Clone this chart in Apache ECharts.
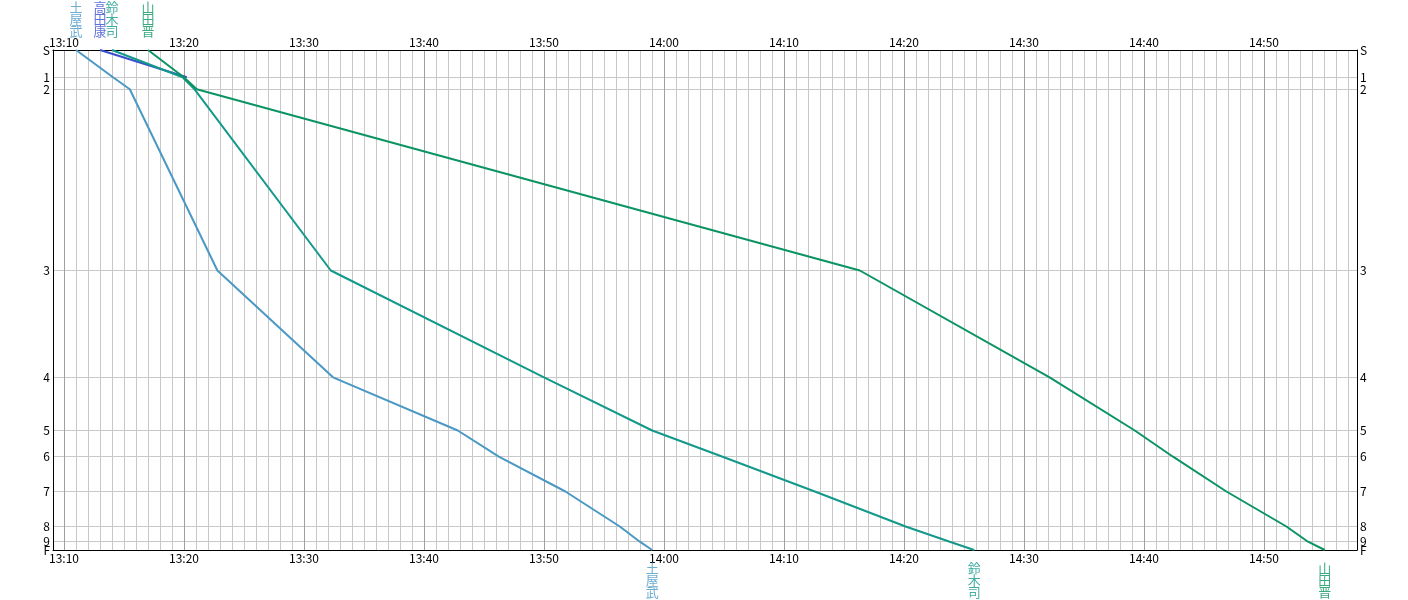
<!DOCTYPE html>
<html>
<head>
<meta charset="utf-8">
<script src="https://cdn.jsdelivr.net/npm/echarts@6/dist/echarts.min.js"></script>
<style>
  html, body { margin: 0; padding: 0; background: #fff; }
  #chart { width: 1408px; height: 600px; }
</style>
</head>
<body>
<div id="chart"></div>
<script>
// ---------- data ----------
const stations = ['S', '1', '2', '3', '4', '5', '6', '7', '8', '9', 'F'];
const distances = [0, 273, 393, 2205, 3273, 3805, 4067, 4415, 4765, 4917, 5000];

const runnerNames = ['土屋武', '高田康', '鈴木司', '山田晋'];
const runnerColors = ['#4a98c4', '#3a4fcc', '#12998a', '#0b9462'];

const tsuchiyaTimes = ['13:11:00', '13:14:05', '13:15:29', '13:22:47', '13:32:25', '13:42:49', '13:46:14', '13:51:47', '13:56:19', '13:57:59', '13:59:01'];
const takadaTimes   = ['13:13:00', '13:20:14'];
const suzukiTimes   = ['13:14:00', '13:19:53', '13:20:53', '13:32:14', '13:50:00', '13:59:01', '14:04:53', '14:12:34', '14:20:08', '14:23:49', '14:25:51'];
const yamadaTimes   = ['13:17:00', '13:19:59', '13:21:04', '14:16:19', '14:32:08', '14:39:14', '14:42:25', '14:46:52', '14:51:52', '14:53:40', '14:55:04'];
const runnerTimes = [tsuchiyaTimes, takadaTimes, suzukiTimes, yamadaTimes];
const finished = [true, false, true, true];

const timeLabels = ['13:10', '13:20', '13:30', '13:40', '13:50', '14:00', '14:10', '14:20', '14:30', '14:40', '14:50'];
const axisStart = '13:09:05';
const axisEnd = '14:57:45';
const gridStart = '13:10';
const gridEnd = '14:57';

// ---------- helpers ----------
function toMin(s) {
  const p = s.split(':').map(Number);
  return p[0] * 60 + p[1] + (p[2] || 0) / 60;
}
function fmt(v) {
  const m = Math.round(v);
  const h = Math.floor(m / 60);
  const mm = m % 60;
  return h + ':' + (mm < 10 ? '0' : '') + mm;
}
const labelVals = timeLabels.map(toMin);
const minuteVals = [];
for (let m = toMin(gridStart); m <= toMin(gridEnd); m++) minuteVals.push(m);
const splitColors = ['#a0a0a0'].concat(new Array(9).fill('#c8c8c8'));

const FONT = '"Noto Sans CJK JP", "Noto Sans", sans-serif';

function xAxisDef(pos, withGrid) {
  return {
    type: 'value',
    position: pos,
    min: toMin(axisStart),
    max: toMin(axisEnd),
    axisLine: { show: true, onZero: false, lineStyle: { color: '#000', width: 1 } },
    axisTick: { show: false, customValues: minuteVals },
    axisLabel: {
      show: true, customValues: labelVals, formatter: fmt, margin: 2,
      color: '#000', fontSize: 12, fontFamily: FONT
    },
    splitLine: { show: withGrid, lineStyle: { color: splitColors, width: 1 } },
    minorTick: { show: false },
    minorSplitLine: { show: false }
  };
}
// labelIdx: which station labels this axis carries (overlapping ones are split over two axes)
function yAxisDef(pos, withGrid, labelIdx, withLine) {
  const vals = labelIdx.map(i => distances[i]);
  return {
    type: 'value',
    position: pos,
    inverse: true,
    min: distances[0],
    max: distances[distances.length - 1],
    axisLine: { show: withLine, onZero: false, lineStyle: { color: '#000', width: 1 } },
    axisTick: { show: false, customValues: withGrid ? distances : vals },
    axisLabel: {
      show: true, customValues: vals, margin: 3,
      showMinLabel: true, showMaxLabel: true, hideOverlap: false,
      formatter: v => { const i = distances.indexOf(v); return i >= 0 ? stations[i] : ''; },
      color: '#000', fontSize: 12, fontFamily: FONT
    },
    splitLine: { show: withGrid, lineStyle: { color: '#c8c8c8', width: 1 } }
  };
}
const mainIdx = [0, 1, 2, 3, 4, 5, 6, 7, 8, 10];
const extraIdx = [9];

const series = [];
runnerNames.forEach((name, r) => {
  const times = runnerTimes[r];
  series.push({
    name: name,
    type: 'line',
    xAxisIndex: 0, yAxisIndex: 0,
    data: times.map((t, i) => [toMin(t), distances[i]]),
    symbol: 'none',
    lineStyle: { color: runnerColors[r], width: 2 },
    itemStyle: { color: runnerColors[r] },
    z: 3,
    animation: false
  });
});

// runner name labels (start at top, finish at bottom)
const nameData = [];
runnerNames.forEach((name, r) => {
  const times = runnerTimes[r];
  nameData.push({
    value: [toMin(times[0]), distances[0]],
    name: name,
    label: { position: 'top', color: runnerColors[r] }
  });
  if (finished[r]) {
    nameData.push({
      value: [toMin(times[times.length - 1]), distances[distances.length - 1]],
      name: name,
      label: { position: 'bottom', color: runnerColors[r] }
    });
  }
});
series.push({
  type: 'scatter',
  xAxisIndex: 0, yAxisIndex: 0,
  data: nameData,
  symbolSize: 1,
  itemStyle: { color: 'rgba(0,0,0,0)' },
  clip: false,
  silent: true,
  animation: false,
  label: {
    show: true,
    distance: 12,
    fontSize: 13,
    lineHeight: 12,
    fontFamily: FONT,
    formatter: p => p.name.split('').join('\n')
  },
  labelLayout: { hideOverlap: false }
});

const chart = echarts.init(document.getElementById('chart'), null, { renderer: 'canvas' });
chart.setOption({
  backgroundColor: '#fff',
  animation: false,
  grid: { left: 53, right: 51, top: 50, bottom: 50, containLabel: false },
  xAxis: [xAxisDef('bottom', true), xAxisDef('top', false)],
  yAxis: [
    yAxisDef('left', true, mainIdx, true),
    yAxisDef('right', false, mainIdx, true),
    yAxisDef('left', false, extraIdx, false),
    yAxisDef('right', false, extraIdx, false)
  ],
  series: series
});
</script>
</body>
</html>
